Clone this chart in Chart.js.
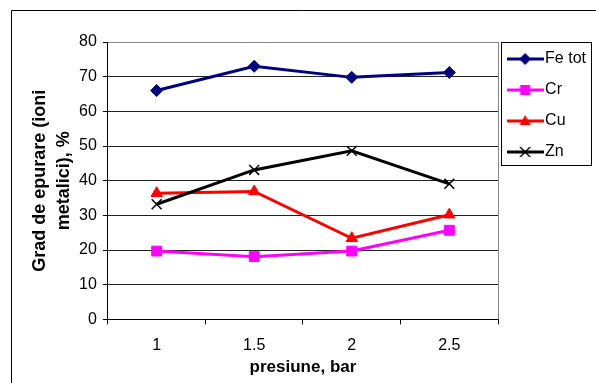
<!DOCTYPE html>
<html>
<head>
<meta charset="utf-8">
<script src="https://cdn.jsdelivr.net/npm/chart.js@4/dist/chart.umd.min.js"></script>
<style>
  html, body { margin: 0; padding: 0; background: #fff; }
  #wrap { width: 596px; height: 383px; }
</style>
</head>
<body>
<div id="wrap"><canvas id="epurareChart" width="596" height="383"></canvas></div>
<script>
// pressure steps (bar) and removal degree per metal (%)
const pressures = ['1', '1.5', '2', '2.5'];
const feTot = [66.0, 73.0, 69.8, 71.2];
const cr = [19.7, 18.1, 19.7, 25.7];
const cu = [36.4, 36.9, 23.4, 30.2];
const zn = [33.2, 43.1, 48.6, 39.1];
const yTicks = [0, 10, 20, 30, 40, 50, 60, 70, 80];

const seriesNames = ['Fe tot', 'Cr', 'Cu', 'Zn'];
const seriesColors = ['#000080', '#ff00ff', '#ff0000', '#000000'];
const seriesMarkers = ['rectRot', 'rect', 'triangle', 'crossRot'];

const FONT = "'Liberation Sans', Arial, sans-serif";
const LEGEND_PAD = 15;

// legend sample: short line with the marker on it
function makeLegendIcon(color, marker) {
    const c = document.createElement('canvas');
    c.width = 37;
    c.height = 14;
    const g = c.getContext('2d');
    const cy = 7, mx = 18.5;
    g.strokeStyle = color;
    g.fillStyle = color;
    g.lineWidth = 3;
    g.beginPath();
    g.moveTo(0, cy);
    g.lineTo(37, cy);
    g.stroke();
    g.beginPath();
    if (marker === 'rectRot') {
        g.moveTo(mx, cy - 6); g.lineTo(mx + 6, cy); g.lineTo(mx, cy + 6); g.lineTo(mx - 6, cy);
        g.closePath(); g.fill();
    } else if (marker === 'rect') {
        g.fillRect(mx - 5, cy - 5, 10, 10);
    } else if (marker === 'triangle') {
        g.moveTo(mx, cy - 6); g.lineTo(mx + 5.5, cy + 4); g.lineTo(mx - 5.5, cy + 4);
        g.closePath(); g.fill();
    } else {
        g.lineWidth = 1.5;
        g.moveTo(mx - 5, cy - 5); g.lineTo(mx + 5, cy + 5);
        g.moveTo(mx + 5, cy - 5); g.lineTo(mx - 5, cy + 5);
        g.stroke();
    }
    return c;
}
const legendIcons = seriesColors.map((c, i) => makeLegendIcon(c, seriesMarkers[i]));

// outer frame, grey plot border and the boxed legend
const framePlugin = {
    id: 'frame',
    afterLayout(chart) {
        // legend rows start a little above the plot top
        if (chart.legend) {
            chart.legend.top -= 6;
            chart.legend.bottom -= 6;
        }
    },
    beforeDraw(chart) {
        const ctx = chart.ctx;
        ctx.save();
        ctx.fillStyle = '#fff';
        ctx.fillRect(0, 0, chart.width, chart.height);
        ctx.strokeStyle = '#000';
        ctx.lineWidth = 1;
        ctx.beginPath();
        ctx.moveTo(11.5, chart.height);
        ctx.lineTo(11.5, 10.5);
        ctx.lineTo(chart.width, 10.5);
        ctx.stroke();
        ctx.restore();
    },
    beforeDatasetsDraw(chart) {
        const {ctx, chartArea} = chart;
        const x = Math.round(chartArea.right) + 0.5;
        ctx.save();
        ctx.strokeStyle = '#888';
        ctx.lineWidth = 1;
        ctx.beginPath();
        ctx.moveTo(x, chartArea.top);
        ctx.lineTo(x, chartArea.bottom);
        ctx.stroke();
        ctx.restore();
    },
    afterDraw(chart) {
        const legend = chart.legend;
        if (!legend) return;
        const ctx = chart.ctx;
        const n = legend.legendItems.length;
        const rowH = 16 + LEGEND_PAD;
        const left = Math.round(legend.left) + 3.5;
        const top = Math.round(chart.chartArea.top) + 0.5;
        const right = Math.round(legend.right) - 4.5;
        const bottom = Math.round(legend.top + LEGEND_PAD + n * rowH - LEGEND_PAD + 5) + 0.5;
        ctx.save();
        ctx.strokeStyle = '#000';
        ctx.lineWidth = 1;
        ctx.strokeRect(left, top, right - left, bottom - top);
        ctx.restore();
    }
};

const seriesData = [feTot, cr, cu, zn];
const pointRadii = [6, 7, 6.5, 7];

new Chart(document.getElementById('epurareChart').getContext('2d'), {
    type: 'line',
    data: {
        labels: pressures,
        datasets: seriesData.map((d, i) => ({
            label: seriesNames[i],
            data: d,
            borderColor: seriesColors[i],
            backgroundColor: seriesColors[i],
            borderWidth: 3,
            tension: 0,
            pointStyle: seriesMarkers[i],
            pointRadius: pointRadii[i],
            pointHoverRadius: pointRadii[i],
            pointBackgroundColor: seriesColors[i],
            pointBorderColor: seriesColors[i],
            pointBorderWidth: i === 3 ? 1.5 : 1,
            order: 3 - i
        }))
    },
    options: {
        responsive: false,
        animation: false,
        devicePixelRatio: 1,
        layout: { padding: { left: 25, top: 42, right: 0, bottom: 7 } },
        plugins: {
            tooltip: { enabled: false },
            legend: {
                position: 'right',
                align: 'start',
                fullSize: false,
                labels: {
                    usePointStyle: true,
                    pointStyleWidth: 24,
                    padding: LEGEND_PAD,
                    color: '#000',
                    font: { family: FONT, size: 16 },
                    generateLabels(chart) {
                        const items = Chart.defaults.plugins.legend.labels.generateLabels(chart);
                        items.sort((a, b) => a.datasetIndex - b.datasetIndex);
                        items.forEach(it => { it.pointStyle = legendIcons[it.datasetIndex]; });
                        return items;
                    }
                }
            }
        },
        scales: {
            x: {
                type: 'category',
                offset: true,
                grid: {
                    offset: true,
                    drawOnChartArea: false,
                    tickLength: 5,
                    tickColor: '#000'
                },
                border: { color: '#000', width: 1 },
                ticks: { color: '#000', padding: 12, font: { family: FONT, size: 16 } },
                title: {
                    display: true,
                    text: 'presiune, bar',
                    color: '#000',
                    padding: { top: -10, bottom: -2 },
                    font: { family: FONT, size: 17, weight: 'bold' }
                }
            },
            y: {
                min: yTicks[0],
                max: yTicks[yTicks.length - 1],
                ticks: {
                    stepSize: yTicks[1] - yTicks[0],
                    color: '#000',
                    padding: 6,
                    font: { family: FONT, size: 16 }
                },
                grid: {
                    color: ctx => (ctx.tick && ctx.tick.value === yTicks[yTicks.length - 1]) ? '#888' : '#222',
                    tickLength: 5,
                    tickColor: '#000'
                },
                border: { color: '#000', width: 1 },
                title: {
                    display: true,
                    text: ['Grad de epurare (ioni', 'metalici), %'],
                    color: '#000',
                    padding: { top: 4, bottom: -2 },
                    font: { family: FONT, size: 18, weight: 'bold', lineHeight: 1.28 }
                }
            }
        }
    },
    plugins: [framePlugin]
});
</script>
</body>
</html>
